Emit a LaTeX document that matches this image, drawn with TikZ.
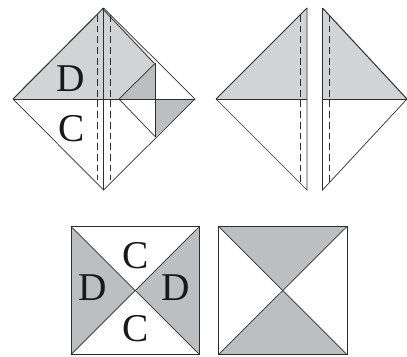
\documentclass[tikz,border=0pt]{standalone}
\usepackage{fontspec}
\setmainfont{Liberation Serif}
\definecolor{paleg}{RGB}{209,211,212}
\definecolor{darkg}{RGB}{188,190,192}
\definecolor{inkg}{RGB}{45,45,45}

\begin{document}
\begin{tikzpicture}[
    x=0.025cm, y=-0.025cm,
    edge/.style={draw=inkg, line width=0.5pt, line join=miter},
    heavy/.style={draw=inkg, line width=0.7pt},
    fold/.style={draw=inkg, line width=0.5pt, dash pattern=on 4.8pt off 2.8pt},
    pale/.style={fill=paleg},
    dark/.style={fill=darkg},
    letter/.style={font=\fontsize{28}{28}\selectfont, text=black!90, inner sep=0pt}
]
    \useasboundingbox (0, 0) rectangle (407, 356);

    % folded diamond
    \coordinate (top) at (103.5, 8);
    \coordinate (lft) at (13, 99);
    \coordinate (rgt) at (195, 99);
    \coordinate (bot) at (103.5, 190);
    \coordinate (mid) at (103.5, 99);
    \coordinate (inn) at (119, 99);
    \coordinate (flapa) at (155.5, 63);
    \coordinate (flapb) at (155.5, 99);
    \coordinate (flapc) at (155.5, 137);

    \fill[pale] (top) -- (lft) -- (flapb) -- (flapa) -- cycle;
    \fill[dark] (inn) -- (flapa) -- (flapb) -- cycle;
    \fill[dark] (flapb) -- (rgt) -- (flapc) -- cycle;
    \draw[edge] (lft) -- (bot) -- (rgt) -- (top);
    \draw[heavy] (lft) -- (top);
    \draw[edge] (top) -- (bot);
    \draw[edge] ([xshift=-1.2]top) -- ([xshift=-1.2]flapa);
    \draw[heavy] (lft) -- (rgt);
    \draw[heavy] (flapa) -- (flapc);
    \draw[edge] (flapa) -- (inn) -- (flapc);
    \draw[fold] (97, 15) -- (97, 180);
    \draw[fold] (110, 15) -- (110, 180);
    \node[letter] (dup) at (71, 79) {D};
    \node[letter] (cup) at (72, 129) {C};

    % cut diamond, two halves
    \coordinate (ltop) at (307, 8);
    \coordinate (lmid) at (307, 99);
    \coordinate (lbot) at (307, 190);
    \coordinate (ltip) at (216, 99);
    \coordinate (rtop) at (322.5, 8);
    \coordinate (rmid) at (322.5, 99);
    \coordinate (rbot) at (322.5, 190);
    \coordinate (rtip) at (407, 99);

    \fill[pale] (ltip) -- (ltop) -- (lmid) -- cycle;
    \fill[pale] (rtip) -- (rtop) -- (rmid) -- cycle;
    \draw[edge] (ltip) -- (lbot) -- (ltop);
    \draw[heavy] (ltip) -- (ltop);
    \draw[heavy] (ltip) -- (lmid);
    \draw[edge] (rtip) -- (rbot) -- (rtop);
    \draw[heavy] (rtop) -- (rtip);
    \draw[heavy] (rmid) -- (rtip);
    \draw[fold] (300, 15) -- (300, 183);
    \draw[fold] (329.5, 15) -- (329.5, 183);

    % opened squares
    \coordinate (anw) at (71, 226.5);
    \coordinate (ane) at (199.5, 226.5);
    \coordinate (ase) at (199.5, 354.5);
    \coordinate (asw) at (71, 354.5);
    \coordinate (acn) at (135.2, 290.5);
    \coordinate (bnw) at (218.5, 226.5);
    \coordinate (bne) at (347, 226.5);
    \coordinate (bse) at (347, 354.5);
    \coordinate (bsw) at (218.5, 354.5);
    \coordinate (bcn) at (282.7, 290.5);

    \fill[dark] (anw) -- (acn) -- (asw) -- cycle;
    \fill[dark] (ane) -- (acn) -- (ase) -- cycle;
    \fill[dark] (bnw) -- (bcn) -- (bne) -- cycle;
    \fill[dark] (bsw) -- (bcn) -- (bse) -- cycle;
    \draw[heavy] (anw) rectangle (ase);
    \draw[edge] (anw) -- (ase);
    \draw[edge] (ane) -- (asw);
    \draw[heavy] (bnw) rectangle (bse);
    \draw[edge] (bnw) -- (bse);
    \draw[edge] (bne) -- (bsw);
    \node[letter] (ctop) at (135.5, 256) {C};
    \node[letter] (cbot) at (135.5, 329) {C};
    \node[letter] (dlft) at (93, 288) {D};
    \node[letter] (drgt) at (176, 288) {D};
\end{tikzpicture}
\end{document}
